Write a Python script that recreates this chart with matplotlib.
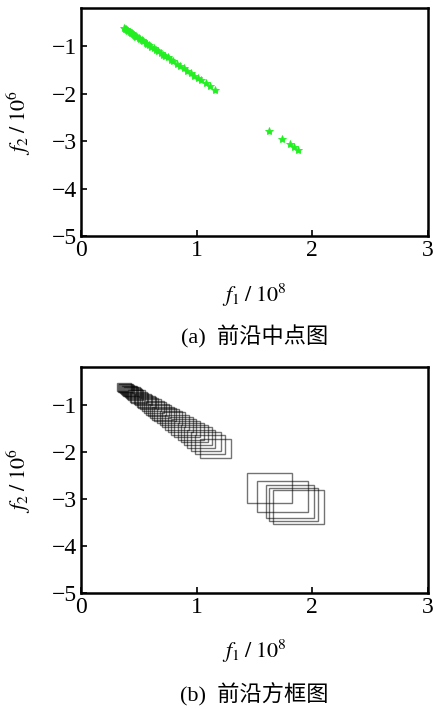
import matplotlib
matplotlib.use("Agg")
import matplotlib.pyplot as plt
from matplotlib.patches import Rectangle

plt.rcParams['font.family'] = ['Liberation Serif', 'Noto Sans CJK SC']
plt.rcParams['mathtext.fontset'] = 'stix'
plt.rcParams['axes.unicode_minus'] = True

# Front midpoints (f1 in 1e8, f2 in 1e6)
f1_mid = [0.37, 0.38, 0.39, 0.40, 0.41, 0.42, 0.43, 0.44, 0.45, 0.46,
          0.47, 0.48, 0.50, 0.51, 0.53, 0.54, 0.56, 0.57, 0.59, 0.61,
          0.63, 0.65, 0.67, 0.69, 0.71, 0.73, 0.75, 0.78, 0.80, 0.83,
          0.86, 0.89, 0.92, 0.95, 0.98, 1.01, 1.04, 1.08, 1.12, 1.16,
          1.63, 1.74, 1.81, 1.84, 1.88]
f2_mid = [-0.62, -0.64, -0.65, -0.67, -0.69, -0.70, -0.72, -0.73, -0.75, -0.77,
          -0.78, -0.80, -0.83, -0.85, -0.88, -0.90, -0.93, -0.95, -0.98, -1.01,
          -1.05, -1.08, -1.11, -1.14, -1.18, -1.21, -1.24, -1.29, -1.32, -1.37,
          -1.42, -1.47, -1.52, -1.57, -1.62, -1.67, -1.72, -1.78, -1.85, -1.93,
          -2.78, -2.95, -3.06, -3.12, -3.18]
# Half widths of the boxes
f1_half = [0.060, 0.061, 0.062, 0.063, 0.064, 0.065, 0.066, 0.067, 0.067, 0.068,
           0.069, 0.070, 0.072, 0.073, 0.075, 0.076, 0.078, 0.079, 0.080, 0.082,
           0.084, 0.086, 0.088, 0.090, 0.092, 0.094, 0.096, 0.098, 0.100, 0.103,
           0.106, 0.109, 0.112, 0.114, 0.117, 0.120, 0.123, 0.127, 0.130, 0.134,
           0.192, 0.220, 0.207, 0.212, 0.219]
f2_half = [0.085, 0.087, 0.088, 0.090, 0.091, 0.093, 0.095, 0.096, 0.098, 0.099,
           0.101, 0.103, 0.106, 0.107, 0.111, 0.112, 0.115, 0.117, 0.120, 0.123,
           0.126, 0.130, 0.133, 0.136, 0.139, 0.142, 0.146, 0.151, 0.154, 0.159,
           0.163, 0.168, 0.173, 0.178, 0.183, 0.187, 0.192, 0.199, 0.205, 0.211,
           0.318, 0.329, 0.354, 0.358, 0.361]

x_ticks = [0, 1, 2, 3]
y_ticks = [-5, -4, -3, -2, -1]
xlabel = r'$f_1\;/\;10^8$'
ylabel = r'$f_2\;/\;10^6$'
captions = ['(a)  前沿中点图', '(b)  前沿方框图']

fig = plt.figure(figsize=(4.33, 7.09), dpi=100)
ax1 = fig.add_axes([0.187, 0.667, 0.801, 0.3216])
ax2 = fig.add_axes([0.187, 0.1636, 0.801, 0.3188])

for ax in (ax1, ax2):
    ax.set_xlim(0, 3)
    ax.set_ylim(-5, -0.2)
    ax.set_xticks(x_ticks)
    ax.set_yticks(y_ticks)
    ax.tick_params(direction='in', length=4, width=1.2, labelsize=17, pad=3,
                   top=False, right=False)
    for s in ax.spines.values():
        s.set_linewidth(1.8)
    ax.set_xlabel(xlabel, fontsize=16)
    ax.set_ylabel(ylabel, fontsize=16)
    ax.xaxis.set_label_coords(0.5, -0.2)
    ax.yaxis.set_label_coords(-0.138, 0.5)

ax1.plot(f1_mid, f2_mid, linestyle='none', marker='*', markersize=6,
         color='#22ee22', markeredgewidth=0.6)

for x, y, hw, hh in zip(f1_mid, f2_mid, f1_half, f2_half):
    ax2.add_patch(Rectangle((x - hw, y - hh), 2 * hw, 2 * hh, fill=False,
                            edgecolor='black', alpha=0.55, linewidth=1.0))

fig.text(0.587, 1 - 337 / 709, captions[0], ha='center', va='center', fontsize=16)
fig.text(0.587, 1 - 695 / 709, captions[1], ha='center', va='center', fontsize=16)

fig.savefig('out.png', dpi=100)
